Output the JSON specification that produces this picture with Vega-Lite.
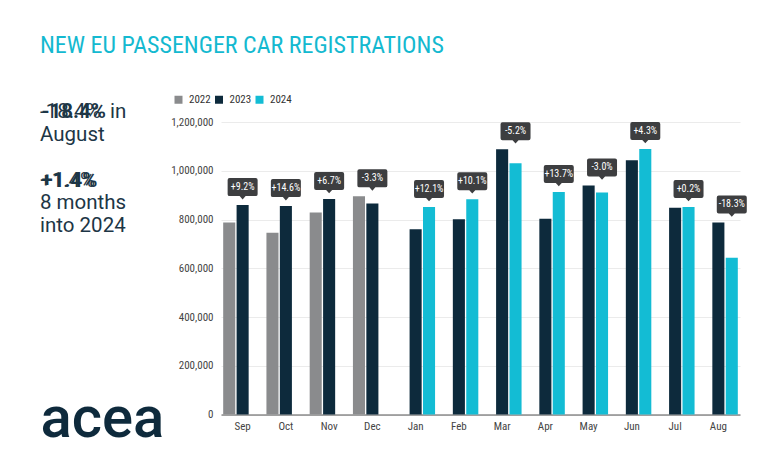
{
  "$schema": "https://vega.github.io/schema/vega-lite/v6.json",
  "width": 519,
  "height": 292.5,
  "autosize": {"type": "none"},
  "padding": {"left": 221, "top": 122, "right": 40, "bottom": 55.5},
  "background": "white",
  "title": {
    "text": "NEW EU PASSENGER CAR REGISTRATIONS",
    "subtitle": ["-18.4%\u2009 in", "August", "\u200b", "+1.4%", "8 months", "into 2024"],
    "anchor": "start",
    "frame": "group",
    "orient": "top",
    "dx": -181,
    "dy": 152.8,
    "offset": 10,
    "font": "Roboto Condensed, Liberation Sans Narrow, DejaVu Sans Condensed, Roboto",
    "fontSize": 24,
    "fontWeight": "normal",
    "color": "#14b9d0",
    "subtitleFont": "Roboto",
    "subtitleFontSize": 20.5,
    "subtitleFontWeight": "normal",
    "subtitleColor": "#1d3646",
    "subtitleLineHeight": 22.8,
    "subtitlePadding": 44
  },
  "data": {
    "values": [
      {"month": "Sep", "year": "2022", "value": 788000},
      {"month": "Sep", "year": "2023", "value": 859000, "pct": "+9.2%"},
      {"month": "Oct", "year": "2022", "value": 746000},
      {"month": "Oct", "year": "2023", "value": 855000, "pct": "+14.6%"},
      {"month": "Nov", "year": "2022", "value": 829000},
      {"month": "Nov", "year": "2023", "value": 884000, "pct": "+6.7%"},
      {"month": "Dec", "year": "2022", "value": 895000},
      {"month": "Dec", "year": "2023", "value": 866000, "pct": "-3.3%"},
      {"month": "Jan", "year": "2023", "value": 760000},
      {"month": "Jan", "year": "2024", "value": 851000, "pct": "+12.1%"},
      {"month": "Feb", "year": "2023", "value": 801000},
      {"month": "Feb", "year": "2024", "value": 883000, "pct": "+10.1%"},
      {"month": "Mar", "year": "2023", "value": 1088000},
      {"month": "Mar", "year": "2024", "value": 1031000, "pct": "-5.2%"},
      {"month": "Apr", "year": "2023", "value": 803000},
      {"month": "Apr", "year": "2024", "value": 913000, "pct": "+13.7%"},
      {"month": "May", "year": "2023", "value": 940000},
      {"month": "May", "year": "2024", "value": 911000, "pct": "-3.0%"},
      {"month": "Jun", "year": "2023", "value": 1043000},
      {"month": "Jun", "year": "2024", "value": 1089000, "pct": "+4.3%"},
      {"month": "Jul", "year": "2023", "value": 848000},
      {"month": "Jul", "year": "2024", "value": 851000, "pct": "+0.2%"},
      {"month": "Aug", "year": "2023", "value": 788000},
      {"month": "Aug", "year": "2024", "value": 643000, "pct": "-18.3%"}
    ]
  },
  "layer": [
    {
      "mark": {"type": "bar"},
      "encoding": {
        "x": {
          "field": "month", "type": "nominal",
          "sort": ["Sep", "Oct", "Nov", "Dec", "Jan", "Feb", "Mar", "Apr", "May", "Jun", "Jul", "Aug"],
          "scale": {"paddingInner": 0.07, "paddingOuter": 0.035},
          "title": "acea"
        },
        "xOffset": {"field": "year", "type": "nominal", "sort": ["2022", "2023", "2024"], "scale": {"paddingInner": 0.1, "paddingOuter": 0.05}},
        "y": {
          "field": "value", "type": "quantitative",
          "scale": {"domain": [0, 1200000]},
          "title": ["-18.4%", "+1.4%"]
        },
        "color": {
          "field": "year", "type": "nominal",
          "scale": {"domain": ["2022", "2023", "2024"], "range": ["#8a8b8d", "#0d2a3c", "#13bcd4"]},
          "legend": {"title": null}
        }
      }
    },
    {
      "transform": [
        {"joinaggregate": [{"op": "max", "field": "value", "as": "mx"}], "groupby": ["month"]},
        {"filter": "datum.pct != null"}
      ],
      "mark": {
        "type": "point",
        "shape": "M-0.87,-0.6 L0.87,-0.6 Q1,-0.6 1,-0.47 L1,0.47 Q1,0.6 0.87,0.6 L0.2,0.6 L0,0.82 L-0.2,0.6 L-0.87,0.6 Q-1,0.6 -1,0.47 L-1,-0.47 Q-1,-0.6 -0.87,-0.6 Z",
        "filled": true,
        "size": 900,
        "color": "#3d3e40",
        "opacity": 1,
        "yOffset": -18
      },
      "encoding": {
        "x": {"field": "month", "type": "nominal", "sort": ["Sep", "Oct", "Nov", "Dec", "Jan", "Feb", "Mar", "Apr", "May", "Jun", "Jul", "Aug"], "title": "acea"},
        "xOffset": {"field": "year", "type": "nominal", "sort": ["2022", "2023", "2024"]},
        "y": {"field": "mx", "type": "quantitative", "title": ["-18.4%", "+1.4%"]}
      }
    },
    {
      "transform": [
        {"joinaggregate": [{"op": "max", "field": "value", "as": "mx"}], "groupby": ["month"]},
        {"filter": "datum.pct != null"}
      ],
      "mark": {
        "type": "text",
        "color": "#ffffff",
        "font": "Roboto Condensed, Liberation Sans Narrow, DejaVu Sans Condensed, Roboto",
        "fontSize": 10,
        "baseline": "middle",
        "align": "center",
        "yOffset": -18
      },
      "encoding": {
        "x": {"field": "month", "type": "nominal", "sort": ["Sep", "Oct", "Nov", "Dec", "Jan", "Feb", "Mar", "Apr", "May", "Jun", "Jul", "Aug"], "title": "acea"},
        "xOffset": {"field": "year", "type": "nominal", "sort": ["2022", "2023", "2024"]},
        "y": {"field": "mx", "type": "quantitative", "title": ["-18.4%", "+1.4%"]},
        "text": {"field": "pct", "type": "nominal"}
      }
    }
  ],
  "config": {
    "view": {"stroke": null},
    "axis": {
      "labelFont": "Roboto Condensed, Liberation Sans Narrow, DejaVu Sans Condensed, Roboto",
      "labelColor": "#444444",
      "labelFontSize": 11,
      "ticks": false,
      "domain": false,
      "gridColor": "#ebebeb",
      "titleFont": "Roboto",
      "titleColor": "#1d3646"
    },
    "axisY": {
      "grid": true,
      "tickCount": 6,
      "labelPadding": 8,
      "titleAngle": 0,
      "titleAlign": "left",
      "titleBaseline": "alphabetic",
      "titleX": -180,
      "titleY": -4.3,
      "titleFontSize": 20.5,
      "titleFontWeight": "bold",
      "titleLineHeight": 68.4
    },
    "axisX": {
      "grid": false,
      "domain": true,
      "domainColor": "#555555",
      "labelAngle": 0,
      "labelPadding": 6,
      "titleAlign": "left",
      "titleBaseline": "alphabetic",
      "titleX": -181,
      "titleY": 22,
      "titleFontSize": 58,
      "titleFontWeight": 500,
      "titleColor": "#0e2a3c"
    },
    "legend": {
      "orient": "none",
      "direction": "horizontal",
      "legendX": -48,
      "legendY": -28,
      "symbolType": "square",
      "symbolSize": 64,
      "symbolStrokeWidth": 0,
      "labelFont": "Roboto Condensed, Liberation Sans Narrow, DejaVu Sans Condensed, Roboto",
      "labelFontSize": 11,
      "labelColor": "#333333",
      "labelOffset": 5,
      "columnPadding": 2.5
    }
  }
}
